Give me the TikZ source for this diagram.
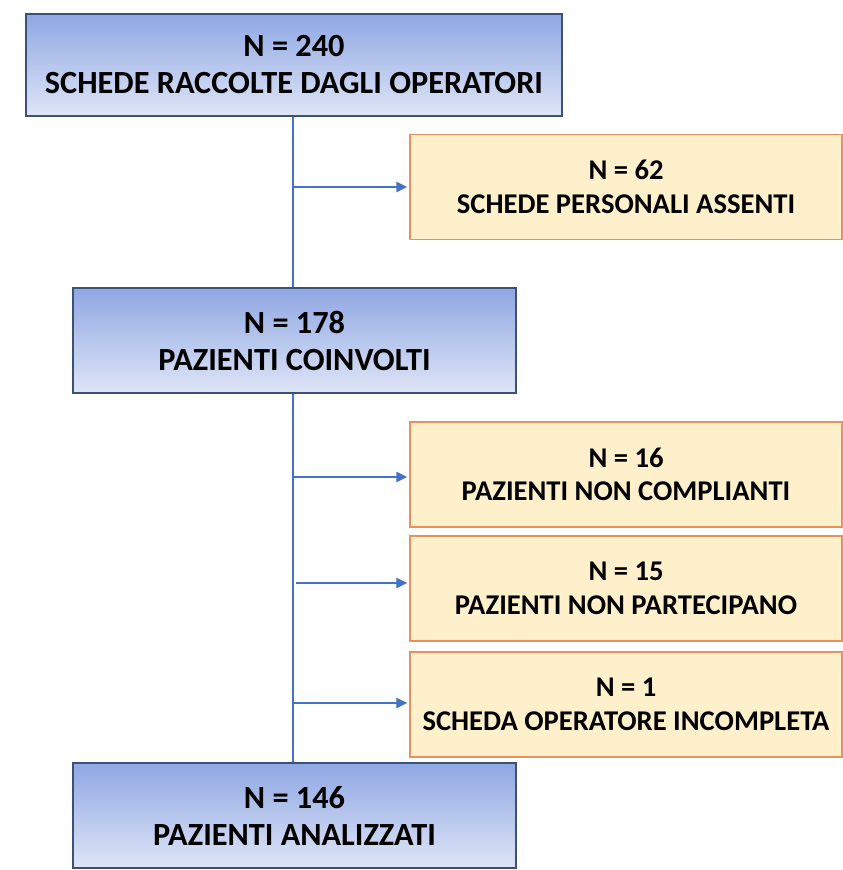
\documentclass[tikz,border=0pt]{standalone}
\usepackage{fontspec}
\setmainfont{Carlito}
\usetikzlibrary{arrows.meta}
\definecolor{bluetop}{RGB}{143,167,227}
\definecolor{bluebot}{RGB}{222,229,246}
\definecolor{blueedge}{RGB}{60,80,120}
\definecolor{orfill}{RGB}{255,240,204}
\definecolor{oredge}{RGB}{233,145,90}
\definecolor{lineblue}{RGB}{68,114,196}
\tikzset{
  mainbox/.style={draw=blueedge, line width=1.3pt, top color=bluetop, bottom color=bluebot,
    inner sep=0pt, align=center, font=\fontsize{32.3}{37}\selectfont\bfseries},
  exclbox/.style={draw=oredge, line width=1.3pt, fill=orfill,
    minimum width=432pt, minimum height=105pt,
    inner sep=0pt, align=center, font=\fontsize{28.6}{33.5}\selectfont\bfseries},
  trunk/.style={draw=lineblue, line width=2.5pt},
  arr/.style={draw=lineblue, line width=2.5pt, -{Triangle[length=11pt,width=10pt]}},
}
\begin{document}
\begin{tikzpicture}[x=1pt,y=-1pt]
\useasboundingbox[fill=white] (0,0) rectangle (843,870);
\node[mainbox, minimum width=536pt, minimum height=102pt] (b1) at (294,65) {N = 240\\SCHEDE RACCOLTE DAGLI OPERATORI};
\node[exclbox] (b2) at (626,187) {N = 62\\SCHEDE PERSONALI ASSENTI};
\node[mainbox, minimum width=443pt, minimum height=105pt] (b3) at (294.5,340.5) {N = 178\\PAZIENTI COINVOLTI};
\node[exclbox] (b4) at (626,474.5) {N = 16\\PAZIENTI NON COMPLIANTI};
\node[exclbox] (b5) at (626,588.5) {N = 15\\PAZIENTI NON PARTECIPANO};
\node[exclbox] (b6) at (626,704.5) {N = 1\\SCHEDA OPERATORE INCOMPLETA};
\node[mainbox, minimum width=443pt, minimum height=105pt] (b7) at (294.5,815.5) {N = 146\\PAZIENTI ANALIZZATI};
\coordinate (t1) at (293,187);
\coordinate (t2) at (293,477);
\coordinate (t3) at (296,583);
\coordinate (t4) at (293,703);
\draw[trunk] ([xshift=-1pt]b1.south) -- ([xshift=-1pt]b1.south |- b3.north);
\draw[trunk] ([xshift=-1.5pt]b3.south) -- ([xshift=-1.5pt]b3.south |- b7.north);
\draw[arr] (t1) -- ([xshift=-2pt]t1 -| b2.west);
\draw[arr] (t2) -- ([xshift=-2pt]t2 -| b4.west);
\draw[arr] (t3) -- ([xshift=-2pt]t3 -| b5.west);
\draw[arr] (t4) -- ([xshift=-2pt]t4 -| b6.west);
\end{tikzpicture}
\end{document}
